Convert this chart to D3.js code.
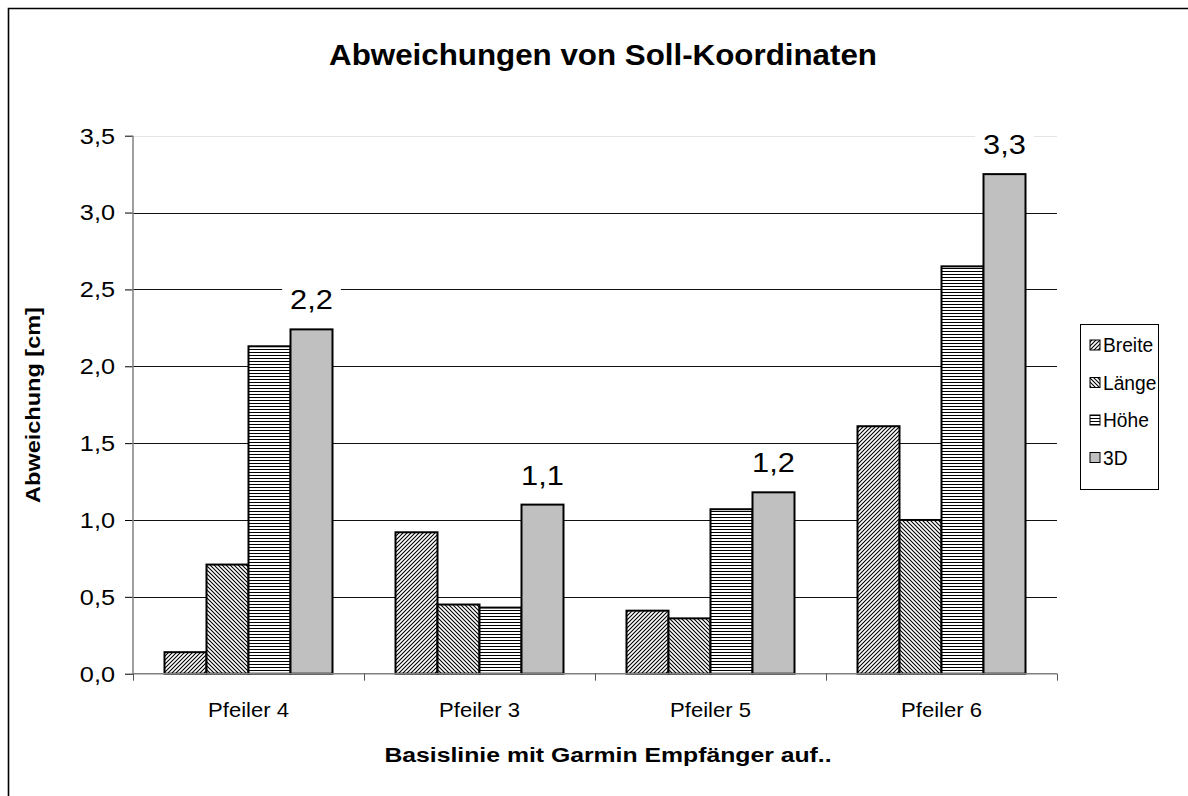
<!DOCTYPE html>
<html>
<head>
<meta charset="utf-8">
<script src="https://cdn.jsdelivr.net/npm/d3@7"></script>
<style>
  html, body { margin: 0; padding: 0; background: #fff; }
  svg { display: block; }
  text { font-family: "Liberation Sans", Arial, Helvetica, sans-serif; fill: #000; }
</style>
</head>
<body>
<svg id="chart" width="1188" height="796"></svg>
<script>
// ---- data ----
const categories = ["Pfeiler 4", "Pfeiler 3", "Pfeiler 5", "Pfeiler 6"];
const seriesNames = ["Breite", "Länge", "Höhe", "3D"];
const breite = [0.14, 0.92, 0.41, 1.61];
const laenge = [0.71, 0.45, 0.36, 1.00];
const hoehe  = [2.13, 0.43, 1.07, 2.65];
const dreiD  = [2.24, 1.10, 1.18, 3.25];
const yTicks = [0, 0.5, 1.0, 1.5, 2.0, 2.5, 3.0, 3.5];
const titleText = "Abweichungen von Soll-Koordinaten";
const xTitleText = "Basislinie mit Garmin Empfänger auf..";
const yTitleText = "Abweichung  [cm]";

const seriesValues = [breite, laenge, hoehe, dreiD];
const labelSeries = "3D";

// ---- layout ----
const svg = d3.select("#chart");
const W = 1188, H = 796;
const P = { l: 133, r: 1057, t: 135.7, b: 673.7 };
const SX = 1.15; // horizontal text stretch of the reference

const de = d3.formatLocale({ decimal: ",", thousands: ".", grouping: [3], currency: ["", " €"] });
const fmt1 = de.format(".1f");

const x0 = d3.scaleBand().domain(categories).range([P.l, P.r]).paddingInner(0).paddingOuter(0);
const bw = x0.bandwidth();
const barW = bw / 5.5;
const pad = 0.75 * barW;
const x1 = d3.scaleBand().domain(seriesNames).range([pad, bw - pad]).padding(0);
const y = d3.scaleLinear().domain([0, 3.5]).range([P.b, P.t]);

function txt(g, x, yy, str, o) {
  o = o || {};
  const sx = o.sx || SX;
  const rot = o.rotate ? ` rotate(${o.rotate})` : "";
  return g.append("text")
    .attr("transform", `translate(${x},${yy})${rot} scale(${sx},1)`)
    .attr("text-anchor", o.anchor || "middle")
    .attr("dominant-baseline", o.baseline || "alphabetic")
    .attr("font-size", o.size || 20)
    .attr("font-weight", o.bold ? "bold" : "normal")
    .text(str);
}

// ---- patterns ----
const defs = svg.append("defs");
const pBreite = defs.append("pattern").attr("id", "pat-Breite")
  .attr("patternUnits", "userSpaceOnUse").attr("width", 4).attr("height", 4);
pBreite.append("rect").attr("width", 4).attr("height", 4).attr("fill", "#fff");
pBreite.append("path").attr("d", "M-1,1 l2,-2 M0,4 l4,-4 M3,5 l2,-2")
  .attr("stroke", "#000").attr("stroke-width", 1.1);

const pLaenge = defs.append("pattern").attr("id", "pat-Länge")
  .attr("patternUnits", "userSpaceOnUse").attr("width", 4).attr("height", 4);
pLaenge.append("rect").attr("width", 4).attr("height", 4).attr("fill", "#fff");
pLaenge.append("path").attr("d", "M-1,3 l2,2 M0,0 l4,4 M3,-1 l2,2")
  .attr("stroke", "#000").attr("stroke-width", 1.1);

const pHoehe = defs.append("pattern").attr("id", "pat-Höhe")
  .attr("patternUnits", "userSpaceOnUse").attr("width", 6).attr("height", 3);
pHoehe.append("rect").attr("width", 6).attr("height", 3).attr("fill", "#fff");
pHoehe.append("line").attr("x1", 0).attr("x2", 6).attr("y1", 1.5).attr("y2", 1.5)
  .attr("stroke", "#000").attr("stroke-width", 1);

const fills = {
  "Breite": "url(#pat-Breite)",
  "Länge": "url(#pat-Länge)",
  "Höhe": "url(#pat-Höhe)",
  "3D": "#c0c0c0"
};

// ---- background & frame ----
svg.append("rect").attr("width", W).attr("height", H).attr("fill", "#fff");
svg.append("path").attr("d", `M8.5,${H + 5} L8.5,8.5 L${W + 5},8.5`)
  .attr("fill", "none").attr("stroke", "#000").attr("stroke-width", 1.6);

// ---- title ----
txt(svg, 603, 65, titleText, { size: 29, bold: true, sx: 1.08 });

// ---- gridlines ----
const grid = svg.append("g");
grid.selectAll("line").data(yTicks.filter(d => d > 0)).join("line")
  .attr("x1", P.l).attr("x2", P.r)
  .attr("y1", d => Math.round(y(d)) + 0.5).attr("y2", d => Math.round(y(d)) + 0.5)
  .attr("stroke", d => d === 3.5 ? "#e4e4e4" : "#111")
  .attr("stroke-width", 1);

// ---- y axis ----
const yAxis = d3.axisLeft(y).tickValues(yTicks).tickSize(8).tickFormat(fmt1);
const gy = svg.append("g").attr("transform", `translate(${P.l},0)`).call(yAxis);
gy.select(".domain").remove();
gy.selectAll(".tick line").attr("stroke", "#000").attr("stroke-width", 1);
gy.selectAll(".tick text").remove();
gy.selectAll(".tick").each(function (d) {
  txt(d3.select(this), -18, 0, fmt1(d), { size: 22, anchor: "end", baseline: "central" });
});
svg.append("line").attr("x1", P.l).attr("x2", P.l).attr("y1", P.t).attr("y2", P.b)
  .attr("stroke", "#808080").attr("stroke-width", 1.5);

// ---- bars ----
const groups = svg.append("g").selectAll("g").data(categories).join("g")
  .attr("transform", c => `translate(${x0(c)},0)`);
groups.selectAll("rect")
  .data((c, i) => seriesNames.map((s, k) => ({ s, v: seriesValues[k][i] })))
  .join("rect")
  .attr("x", d => x1(d.s))
  .attr("width", x1.bandwidth())
  .attr("y", d => y(d.v))
  .attr("height", d => y(0) - y(d.v))
  .attr("fill", d => fills[d.s])
  .attr("stroke", "#000").attr("stroke-width", 2);

// ---- x axis ----
const xAxis = d3.axisBottom(x0).tickSize(0).tickFormat("");
const gx = svg.append("g").attr("transform", `translate(0,${P.b})`).call(xAxis);
gx.select(".domain").remove();
svg.append("line").attr("x1", P.l).attr("x2", P.r).attr("y1", P.b).attr("y2", P.b)
  .attr("stroke", "#808080").attr("stroke-width", 1.5);
const boundaries = categories.map(c => x0(c)).concat([P.r]);
svg.append("g").selectAll("line").data(boundaries).join("line")
  .attr("x1", d => Math.round(d) + 0.5).attr("x2", d => Math.round(d) + 0.5)
  .attr("y1", P.b).attr("y2", P.b + 7)
  .attr("stroke", "#555").attr("stroke-width", 1);
gx.selectAll(".tick").each(function (c) {
  txt(d3.select(this), 0, 43, c, { size: 21, sx: 1.05 });
});

// ---- data labels ----
const li = seriesNames.indexOf(labelSeries);
const dl = svg.append("g");
categories.forEach((c, i) => {
  const v = seriesValues[li][i];
  const cx = x0(c) + x1(labelSeries) + x1.bandwidth() / 2;
  const by = y(v) - 20;
  const g = dl.append("g");
  const t = txt(g, cx, by, fmt1(v), { size: 28, sx: 1.1 });
  const bb = t.node().getBBox();
  const w = bb.width * 1.1;
  g.insert("rect", "text")
    .attr("x", cx - w / 2 - 8).attr("width", w + 16)
    .attr("y", by - 28).attr("height", 34)
    .attr("fill", "#fff");
});

// ---- axis titles ----
txt(svg, 608, 762, xTitleText, { size: 21, bold: true, sx: 1.18 });
txt(svg, 33, 405, yTitleText, { size: 21, bold: true, sx: 1.12, rotate: -90, baseline: "central" });

// ---- legend ----
const lg = svg.append("g");
lg.append("rect").attr("x", 1080.5).attr("y", 324.5).attr("width", 78).attr("height", 165)
  .attr("fill", "#fff").attr("stroke", "#000").attr("stroke-width", 1);
seriesNames.forEach((s, k) => {
  const cy = 345 + k * 37.5;
  lg.append("rect").attr("x", 1090).attr("y", cy - 5).attr("width", 10).attr("height", 10)
    .attr("fill", fills[s]).attr("stroke", "#000").attr("stroke-width", 1);
  txt(lg, 1103, cy, s, { size: 20, anchor: "start", baseline: "central", sx: 0.96 });
});
</script>
</body>
</html>
